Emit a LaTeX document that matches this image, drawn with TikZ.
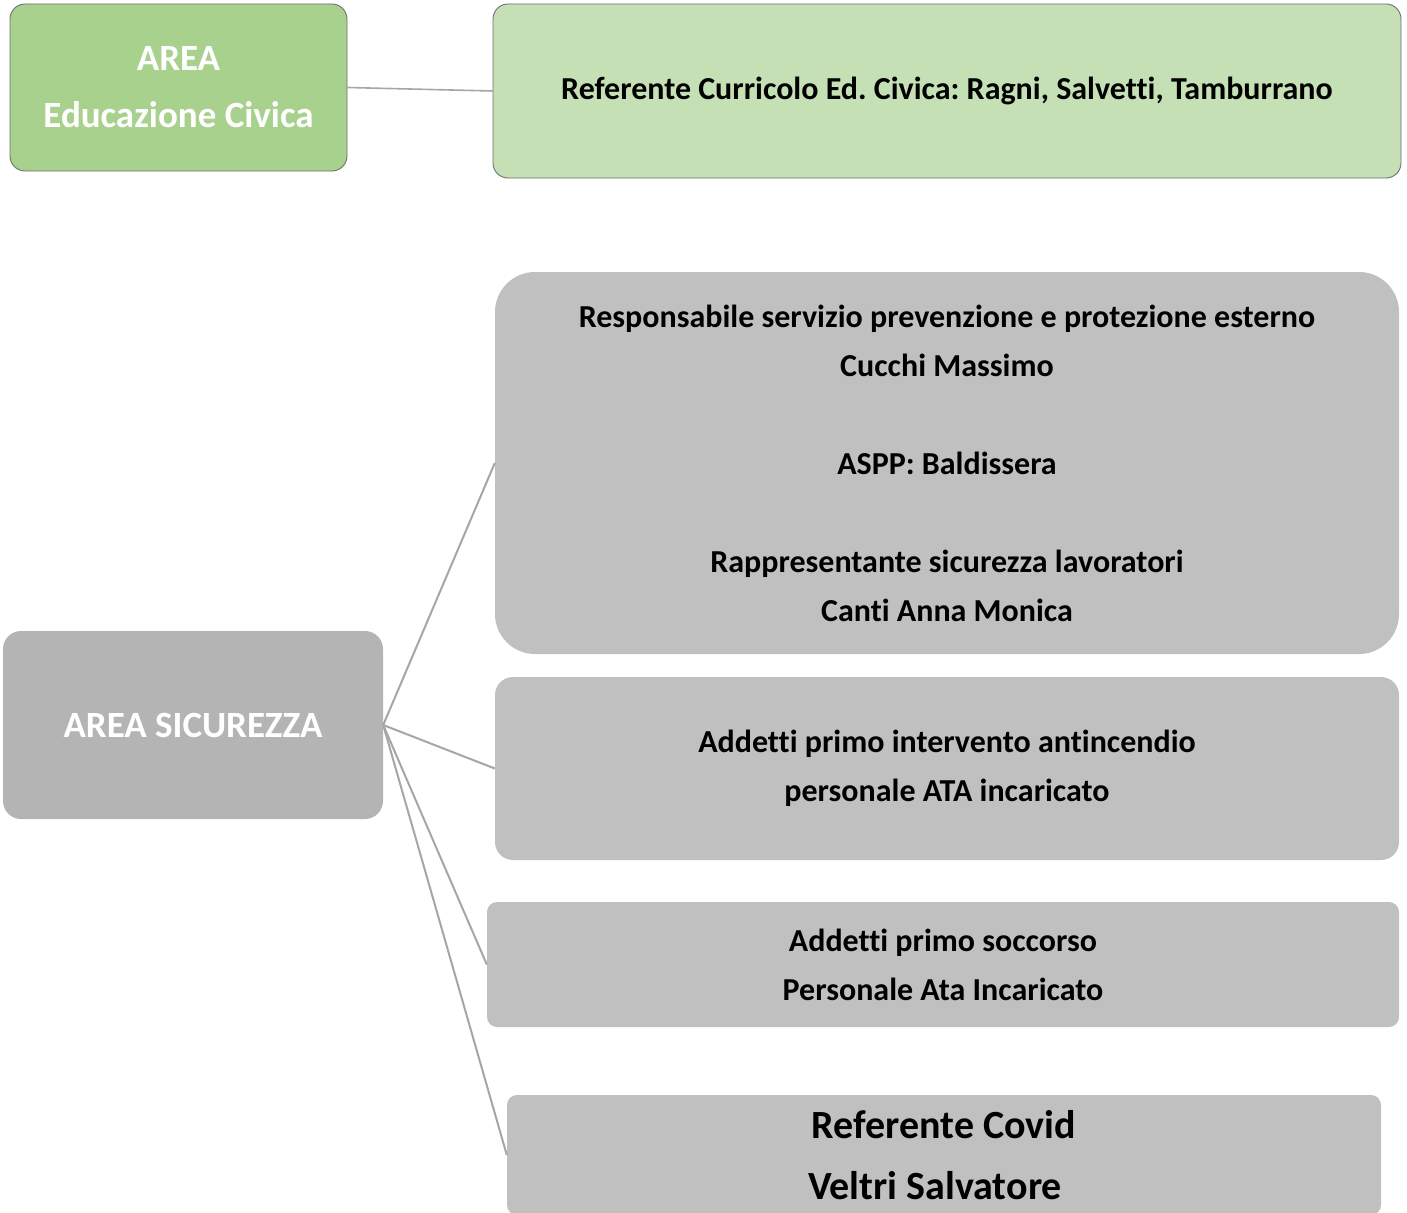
\documentclass[tikz,border=0pt]{standalone}
\usepackage{fontspec}
\setmainfont{Carlito}[Ligatures={NoCommon}]
\frenchspacing
\definecolor{gA}{HTML}{A9D18E}
\definecolor{gB}{HTML}{C5E0B4}
\definecolor{gborder}{HTML}{6E6E6E}
\definecolor{sicfill}{HTML}{B4B4B4}
\definecolor{boxfill}{HTML}{C0C0C0}
\definecolor{linecol}{HTML}{A6A6A6}
\begin{document}
\begin{tikzpicture}[x=1pt,y=-1pt,
  greenbox/.style={draw=gborder,line width=0.9pt,inner sep=0pt,align=center,font=\bfseries},
  graybox/.style={fill=boxfill,draw=none,inner sep=0pt,align=center,font=\bfseries\fontsize{32}{49}\selectfont},
  link/.style={draw=linecol,line width=2pt}]
\useasboundingbox (0,0) rectangle (1407,1212);
% Educazione Civica
\node[greenbox,fill=gA,rounded corners=15pt,minimum width=337pt,minimum height=167pt,text=white,font=\bfseries\fontsize{37}{57}\selectfont] (civ) at (178.5,87.5) {AREA\\Educazione Civica};
\node[greenbox,fill=gB,rounded corners=15pt,minimum width=908pt,minimum height=174pt,font=\bfseries\fontsize{32}{49}\selectfont] (ref) at (947,91) {Referente Curricolo Ed. Civica: Ragni, Salvetti, Tamburrano};
\draw[link,line width=1.6pt] (civ.east) -- (ref.west);
% Sicurezza
\node[fill=sicfill,rounded corners=18pt,inner sep=0pt,minimum width=380pt,minimum height=188pt,text=white,font=\bfseries\fontsize{37}{44}\selectfont] (sic) at (193,725) {AREA SICUREZZA};
\node[graybox,rounded corners=40pt,minimum width=904pt,minimum height=382pt] (rspp) at (947,463)
 {Responsabile servizio prevenzione e protezione esterno\\Cucchi Massimo\\[49pt]ASPP: Baldissera\\[49pt]Rappresentante sicurezza lavoratori\\Canti Anna Monica};
\node[graybox,rounded corners=18pt,minimum width=904pt,minimum height=183pt] (anti) at (947,768.5)
 {Addetti primo intervento antincendio\\personale ATA incaricato};
\node[graybox,rounded corners=10pt,minimum width=912pt,minimum height=125pt] (socc) at (943,964.5)
 {Addetti primo soccorso\\Personale Ata Incaricato};
\node[graybox,rounded corners=10pt,minimum width=874pt,minimum height=120pt,font=\bfseries\fontsize{40}{61}\selectfont] (covid) at (944,1155)
 {Referente Covid\\Veltri Salvatore\hspace*{18pt}};
\draw[link] (sic.east) -- (rspp.west);
\draw[link] (sic.east) -- (anti.west);
\draw[link] (sic.east) -- (socc.west);
\draw[link] (sic.east) -- (covid.west);
\end{tikzpicture}
\end{document}
